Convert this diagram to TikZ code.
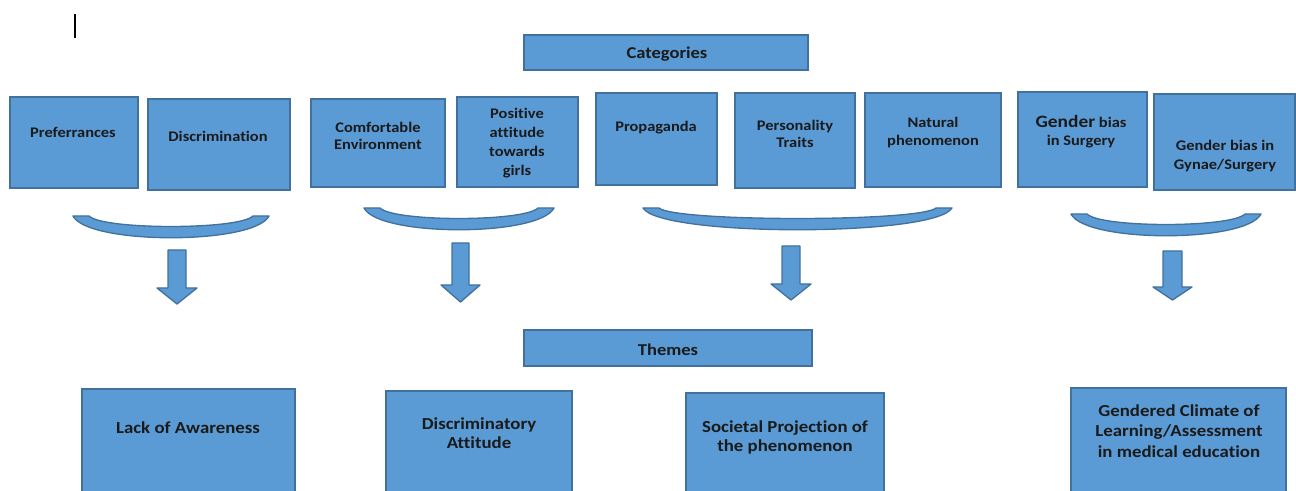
\documentclass[tikz,border=0pt]{standalone}
\usepackage{fontspec}
\setmainfont{Carlito}[FakeStretch=1.12,Ligatures=NoCommon]
\usetikzlibrary{fit}
\definecolor{boxfill}{HTML}{5B9BD5}
\definecolor{boxedge}{HTML}{41719C}
\definecolor{inktext}{HTML}{1A1A1A}
\tikzset{
  catbox/.style={draw=boxedge, fill=boxfill, line width=1.5pt, inner sep=0pt},
  lbl/.style={font=\bfseries\fontsize{11}{13.5}\selectfont, text=inktext, align=center, inner sep=0pt},
  headlbl/.style={lbl, font=\bfseries\fontsize{12.4}{14}\selectfont},
  biglbl/.style={lbl, font=\bfseries\fontsize{12.6}{15.5}\selectfont},
  blob/.style={draw=boxedge, fill=boxfill, line width=1pt, line join=round},
}

\begin{document}
\begin{tikzpicture}[x=0.75pt,y=-0.75pt]
%%
\useasboundingbox (0,0) rectangle (1296,491);
\draw [line width=1.4pt] (75,14) -- (75,38);
%% headings
\node (cat_box) [catbox, fit={(524,35) (808,70)}] {};
\node (cat_txt) at (667,54) [headlbl] {Categories};
\node (thm_box) [catbox, fit={(524,330) (812,366)}] {};
\node (thm_txt) at (668,350) [headlbl] {Themes};
%% categories
\node (c_1) [catbox, fit={(10,97) (138,188)}] {};
  \node (c_1t) at (73,132) [lbl] {Preferrances};
\node (c_2) [catbox, fit={(148,99) (290,190)}] {};
  \node (c_2t) at (218,136) [lbl] {Discrimination};
\node (c_3) [catbox, fit={(311,99) (445,187)}] {};
  \node (c_3t) at (378,135.5) [lbl, font=\bfseries\fontsize{11}{12.8}\selectfont] {Comfortable\\Environment};
\node (c_4) [catbox, fit={(457,97) (578,187)}] {};
  \node (c_4t) at (517,143.5) [lbl, font=\bfseries\fontsize{11}{14.3}\selectfont] {Positive\\attitude\\towards\\girls};
\node (c_5) [catbox, fit={(596,93) (717,185)}] {};
  \node (c_5t) at (656,128) [lbl] {Propaganda};
\node (c_6) [catbox, fit={(735,93) (855,188)}] {};
  \node (c_6t) at (795,133.5) [lbl, font=\bfseries\fontsize{11}{12.8}\selectfont] {Personality\\Traits};
\node (c_7) [catbox, fit={(865,93) (1001,187)}] {};
  \node (c_7t) at (933,133) [lbl, font=\bfseries\fontsize{11}{13.5}\selectfont] {Natural\\phenomenon};
\node (c_8) [catbox, fit={(1018,92) (1147,187)}] {};
  \node (c_8t) at (1081,132) [lbl] {{\fontsize{13}{13.5}\selectfont Gender} bias\\in Surgery};
\node (c_9) [catbox, fit={(1154,94) (1295,190)}] {};
  \node (c_9t) at (1225,156.5) [lbl, font=\bfseries\fontsize{11}{14.3}\selectfont] {Gender bias in\\Gynae/Surgery};
%% braces
\draw [blob] (73,216) -- (89,216) .. controls (103,230) and (239,230) .. (253,216) -- (269,216) .. controls (254,245) and (88,245) .. cycle;
\draw [blob] (364,208) -- (380,208) .. controls (394,222) and (524,222) .. (538,208) -- (554,208) .. controls (539,237) and (379,237) .. cycle;
\draw [blob] (643,208) -- (659,208) .. controls (675,222) and (920,222) .. (936,208) -- (952,208) .. controls (935,237) and (660,237) .. cycle;
\draw [blob] (1071,214) -- (1087,214) .. controls (1101,228) and (1231,228) .. (1245,214) -- (1261,214) .. controls (1246,243) and (1086,243) .. cycle;
%% block arrows
\draw [blob] (168,250) -- (186,250) -- (186,288) -- (197,288) -- (177,304) -- (157,288) -- (168,288) -- cycle;
\draw [blob] (452,243) -- (469,243) -- (469,285) -- (480,285) -- (460.5,302) -- (441,285) -- (452,285) -- cycle;
\draw [blob] (782,246) -- (800,246) -- (800,284) -- (811,284) -- (791,300) -- (771,284) -- (782,284) -- cycle;
\draw [blob] (1163,251) -- (1182,251) -- (1182,287) -- (1192,287) -- (1172.5,300) -- (1153,287) -- (1163,287) -- cycle;
%% themes
\node (t_1) [catbox, fit={(82,389) (295,495)}] {};
  \node (t_1t) at (188,428) [biglbl] {Lack of Awareness};
\node (t_2) [catbox, fit={(386,391) (572,495)}] {};
  \node (t_2t) at (479,433.5) [biglbl, font=\bfseries\fontsize{12.6}{14.3}\selectfont] {Discriminatory\\Attitude};
\node (t_3) [catbox, fit={(686,393) (884,495)}] {};
  \node (t_3t) at (785,437.5) [biglbl, font=\bfseries\fontsize{12.6}{14.3}\selectfont] {Societal Projection of\\the phenomenon};
\node (t_4) [catbox, fit={(1071,388) (1286,495)}] {};
  \node (t_4t) at (1179,431) [biglbl] {Gendered Climate of\\Learning/Assessment\\in medical education};
%
\end{tikzpicture}
\end{document}
